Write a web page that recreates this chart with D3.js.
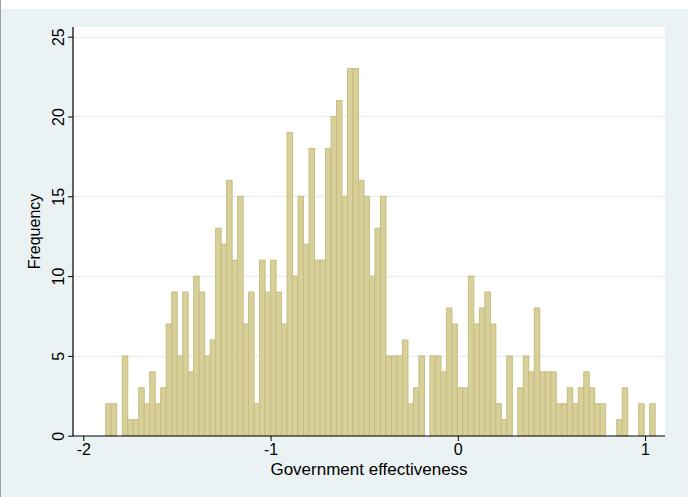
<!DOCTYPE html>
<html>
<head>
<meta charset="utf-8">
<script src="https://cdn.jsdelivr.net/npm/d3@7"></script>
<style>
  html, body { margin: 0; padding: 0; background: #ffffff; }
  svg { display: block; }
  text { font-family: "Liberation Sans", Arial, sans-serif; fill: #000; }
</style>
</head>
<body>
<svg id="chart" width="690" height="497"></svg>
<script>
// Histogram of government effectiveness, 100 equal-width bins
const binStart = -1.880;
const binWidth = 0.02934;
const frequencies = [
  2, 2, 0, 5, 1, 1, 3, 2, 4, 2, 3,
  7, 9, 5, 9, 4, 10, 9, 5, 6, 13, 12, 16, 11, 15, 7, 9, 2, 11, 9, 11, 9, 7, 19, 10, 15, 12,
  18, 11, 11, 18, 20, 21, 15, 23, 23, 16, 15, 10, 13, 15, 5, 5, 5, 6, 2, 3, 5,
  0, 5, 5, 4, 8, 7, 3, 3, 10, 7, 8, 9, 7, 2, 1, 5, 0, 3, 5, 4, 8,
  4, 4, 4, 2, 2, 3, 2, 3, 4, 3, 2, 2, 0, 0, 1, 3, 0, 0, 2, 0, 2
];
const xTicks = [-2, -1, 0, 1];
const yTicks = [0, 5, 10, 15, 20, 25];
const xTitle = "Government effectiveness";
const yTitle = "Frequency";

const svg = d3.select("#chart");

// graph region and plot region
svg.append("rect").attr("x", 1).attr("y", 9).attr("width", 687).attr("height", 488)
  .attr("fill", "#eaf2f3");
svg.append("line").attr("x1", 0.5).attr("x2", 0.5).attr("y1", 0).attr("y2", 497)
  .attr("stroke", "#9aa0a2").attr("stroke-width", 1);

const plot = { left: 73, right: 665, top: 27, bottom: 436 };
svg.append("rect").attr("x", plot.left).attr("y", plot.top)
  .attr("width", plot.right - plot.left).attr("height", plot.bottom - plot.top)
  .attr("fill", "#ffffff");

const x = d3.scaleLinear().domain([-2, 1]).range([83.3, 645.05]);
const y = d3.scaleLinear().domain([0, 25]).range([435.7, 36.7]);

// horizontal grid lines
svg.append("g").selectAll("line")
  .data(yTicks.filter(t => t > 0))
  .join("line")
  .attr("x1", plot.left).attr("x2", plot.right)
  .attr("y1", d => Math.round(y(d)) + 0.5).attr("y2", d => Math.round(y(d)) + 0.5)
  .attr("stroke", "#e6eff1").attr("stroke-width", 1.4);

// bars
const bins = frequencies.map((f, i) => ({ x0: binStart + i * binWidth, x1: binStart + (i + 1) * binWidth, f }));
svg.append("g").selectAll("rect")
  .data(bins.filter(b => b.f > 0))
  .join("rect")
  .attr("x", d => x(d.x0))
  .attr("width", d => x(d.x1) - x(d.x0))
  .attr("y", d => y(d.f))
  .attr("height", d => y(0) - y(d.f))
  .attr("fill", "#d8d09b")
  .attr("stroke", "#c7bd7d")
  .attr("stroke-width", 1);

// axes
const xAxis = d3.axisBottom(x).tickValues(xTicks).tickSize(5).tickPadding(3)
  .tickFormat(d => d3.format("d")(d).replace("−", "-"));
const gx = svg.append("g").attr("transform", `translate(0,${plot.bottom})`).call(xAxis);
gx.select(".domain").remove();
gx.append("line").attr("x1", plot.left).attr("x2", plot.right).attr("y1", 0).attr("y2", 0)
  .attr("stroke", "#000").attr("stroke-width", 1.2);
gx.selectAll(".tick line").attr("stroke", "#000");
gx.selectAll(".tick text").attr("font-size", 16).style("font-family", "Liberation Sans, Arial, sans-serif").attr("fill", "#000");

const yAxis = d3.axisLeft(y).tickValues(yTicks).tickSize(5);
const gy = svg.append("g").attr("transform", `translate(${plot.left},0)`).call(yAxis);
gy.select(".domain").remove();
gy.append("line").attr("x1", 0).attr("x2", 0).attr("y1", plot.top).attr("y2", plot.bottom)
  .attr("stroke", "#000").attr("stroke-width", 1.2);
gy.selectAll(".tick line").attr("stroke", "#000");
gy.selectAll(".tick text")
  .attr("font-size", 16).style("font-family", "Liberation Sans, Arial, sans-serif").attr("fill", "#000")
  .attr("x", null).attr("dy", null)
  .attr("text-anchor", "middle")
  .attr("transform", "translate(-15,0) rotate(-90)")
  .attr("dy", "0.35em");

// axis titles
svg.append("text").attr("x", (plot.left + plot.right) / 2).attr("y", 475)
  .attr("text-anchor", "middle").attr("font-size", 17).text(xTitle);
svg.append("text").attr("transform", `translate(40,${(plot.top + plot.bottom) / 2}) rotate(-90)`)
  .attr("text-anchor", "middle").attr("font-size", 16).text(yTitle);
</script>
</body>
</html>
